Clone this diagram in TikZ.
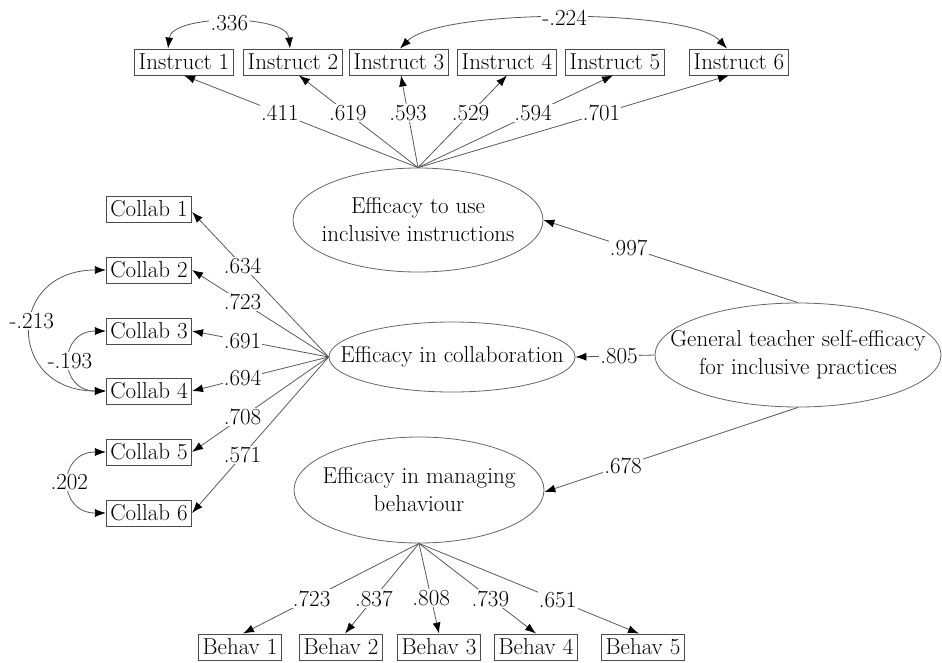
\documentclass[tikz,border=0pt]{standalone}
\usetikzlibrary{shapes.geometric,arrows.meta,calc}
\begin{document}
\begin{tikzpicture}[x=1pt,y=-1pt,
  every node/.style={font=\fontsize{23}{28}\selectfont},
  obs/.style={draw=black!70, line width=0.9pt, inner xsep=4pt, inner ysep=0pt, minimum height=26pt},
  lat/.style={draw=black!60, line width=0.8pt, ellipse, inner sep=0pt},
  lbl/.style={fill=white, inner sep=1.2pt},
  tip/.tip={Latex[length=11pt,width=8pt,color=black]},
  arr/.style={draw=black!65, line width=0.8pt, -tip},
  cov/.style={draw=black!65, line width=0.8pt, tip-tip}
]
\useasboundingbox (0,0) rectangle (942,662);
% observed: instruct
\node[obs] (i1) at (184,62) {Instruct 1};
\node[obs] (i2) at (293,62) {Instruct 2};
\node[obs] (i3) at (399,62) {Instruct 3};
\node[obs] (i4) at (507,62) {Instruct 4};
\node[obs] (i5) at (615,62) {Instruct 5};
\node[obs] (i6) at (739,62) {Instruct 6};
% collab
\node[obs] (c1) at (149,209) {Collab 1};
\node[obs] (c2) at (149,270) {Collab 2};
\node[obs] (c3) at (149,331) {Collab 3};
\node[obs] (c4) at (149,391) {Collab 4};
\node[obs] (c5) at (149,452) {Collab 5};
\node[obs] (c6) at (149,513) {Collab 6};
% behav
\node[obs] (b1) at (240,647) {Behav 1};
\node[obs] (b2) at (341,647) {Behav 2};
\node[obs] (b3) at (439,647) {Behav 3};
\node[obs] (b4) at (536,647) {Behav 4};
\node[obs] (b5) at (643,647) {Behav 5};
% latent
\node[lat, minimum width=250pt, minimum height=104pt] (e1) at (418,220) {};
\node[align=center] (t1) at (e1.center) {Efficacy to use\\inclusive instructions};
\node[lat, minimum width=246pt, minimum height=70pt] (e2) at (452,357) {};
\node (t2) at (e2.center) {Efficacy in collaboration};
\node[lat, minimum width=250pt, minimum height=106pt] (e3) at (419,490) {};
\node[align=center] (t3) at (e3.center) {Efficacy in managing\\behaviour};
\node[lat, minimum width=286pt, minimum height=104pt] (g) at (798,355) {};
\node[align=center] (tg) at (g.center) {General teacher self-efficacy\\for inclusive practices};
% loadings instruct
\draw[arr] (e1.north) -- node[lbl,pos=0.59] (l1) {.411} (i1.south);
\draw[arr] (e1.north) -- node[lbl,pos=0.59] (l2) {.619} ([xshift=6pt]i2.south);
\draw[arr] (e1.north) -- node[lbl,pos=0.59] (l3) {.593} ([xshift=2pt]i3.south);
\draw[arr] (e1.north) -- node[lbl,pos=0.59] (l4) {.529} (i4.south);
\draw[arr] (e1.north) -- node[lbl,pos=0.59] (l5) {.594} ([xshift=-2pt]i5.south);
\draw[arr] (e1.north) -- node[lbl,pos=0.59] (l6) {.701} ([xshift=-10pt]i6.south);
% loadings collab
\draw[arr] (e2.west) -- node[lbl,pos=0.63] (m1) {.634} ([yshift=-3pt]c1.east);
\draw[arr] (e2.west) -- node[lbl,pos=0.63] (m2) {.723} (c2.east);
\draw[arr] (e2.west) -- node[lbl,pos=0.63] (m3) {.691} (c3.east);
\draw[arr] (e2.west) -- node[lbl,pos=0.63] (m4) {.694} (c4.east);
\draw[arr] (e2.west) -- node[lbl,pos=0.63] (m5) {.708} (c5.east);
\draw[arr] (e2.west) -- node[lbl,pos=0.63] (m6) {.571} (c6.east);
% loadings behav
\draw[arr] (e3.south) -- node[lbl,pos=0.61] (n1) {.723} ([xshift=3pt]b1.north);
\draw[arr] (e3.south) -- node[lbl,pos=0.61] (n2) {.837} ([xshift=4pt]b2.north);
\draw[arr] (e3.south) -- node[lbl,pos=0.61] (n3) {.808} (b3.north);
\draw[arr] (e3.south) -- node[lbl,pos=0.61] (n4) {.739} (b4.north);
\draw[arr] (e3.south) -- node[lbl,pos=0.63] (n5) {.651} ([xshift=-4pt]b5.north);
% second order
\draw[arr] (g.north) -- node[lbl,pos=0.665] (s1) {.997} (e1.east);
\draw[arr] (g.west) -- node[lbl,pos=0.45] (s2) {.805} (e2.east);
\draw[arr] (g.south) -- node[lbl,pos=0.69] (s3) {.678} ([yshift=-2pt]e3.east);
% covariances
\draw[cov] ([xshift=-16pt]i1.north) .. controls (172,14) and (287,14) .. node[lbl,pos=0.5] (k1) {.336} ([xshift=-3pt]i2.north);
\draw[cov] ([xshift=1pt]i3.north) .. controls (440,8) and (690,8) .. node[lbl,pos=0.5] (k2) {-.224} ([xshift=-12pt]i6.north);
\draw[cov] (c2.west) .. controls (6,270) and (6,391) .. node[lbl,pos=0.45] (k3) {-.213} (c4.west);
\draw[cov] (c3.west) .. controls (58,331) and (58,391) .. node[lbl,pos=0.5] (k4) {-.193} (c4.west);
\draw[cov] (c5.west) .. controls (57,452) and (57,513) .. node[lbl,pos=0.5] (k5) {.202} (c6.west);
\end{tikzpicture}
\end{document}
